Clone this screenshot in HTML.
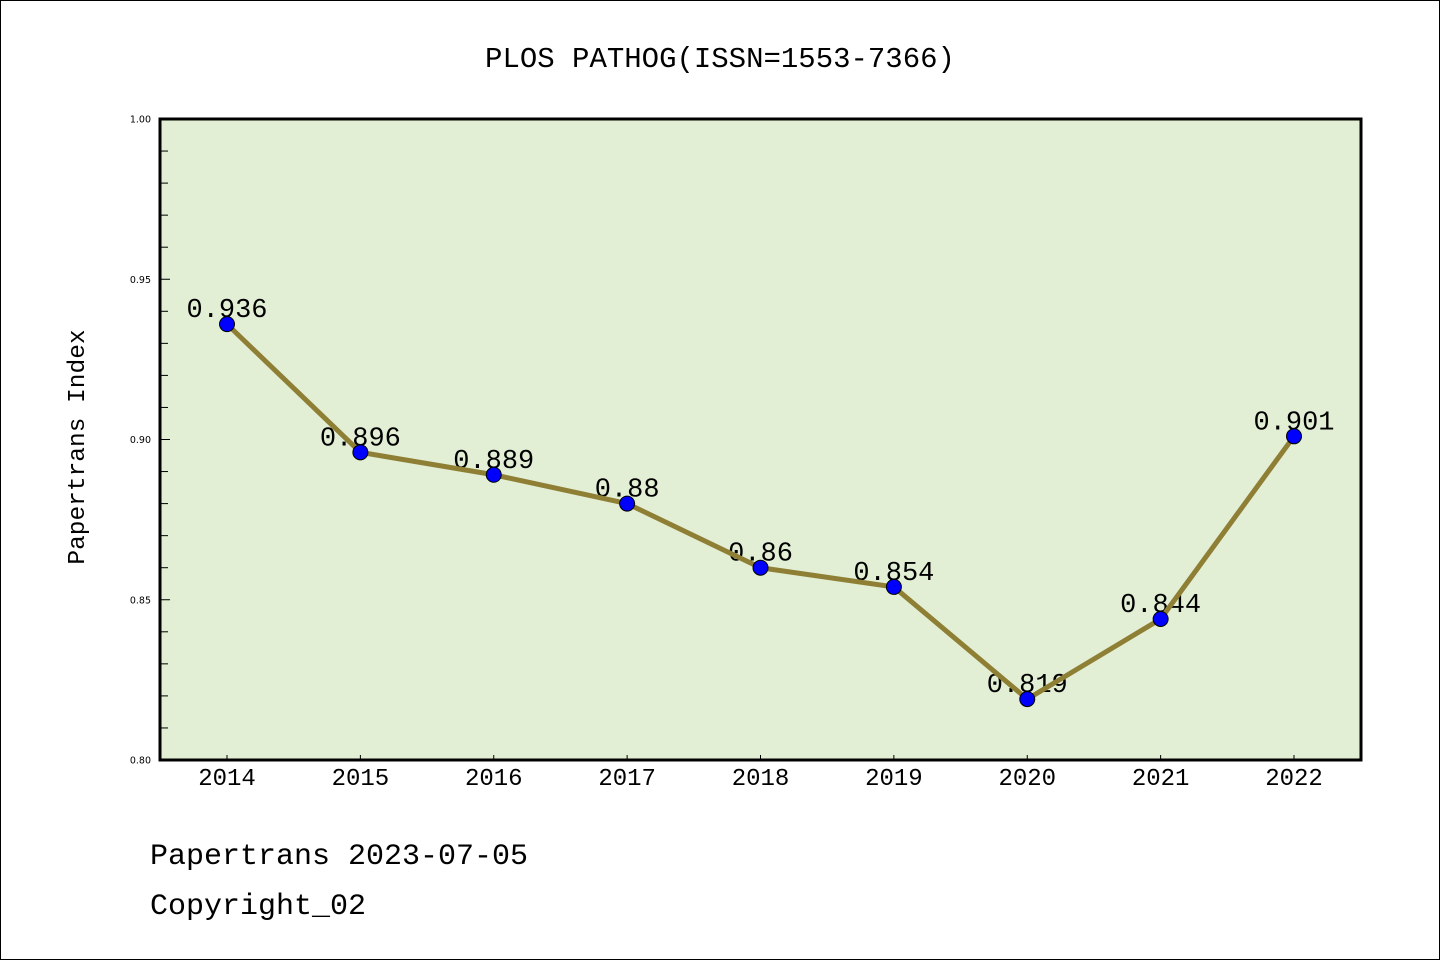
<!DOCTYPE html>
<html><head><meta charset="utf-8"><style>
html,body{margin:0;padding:0;background:#fff}
svg{display:block}
text{font-family:"WenQuanYi Zen Hei Mono","Liberation Mono",monospace}
text.yt{font-family:"DejaVu Sans",sans-serif}
</style></head><body>
<svg id="chart" width="1440" height="960" xmlns="http://www.w3.org/2000/svg">
<rect x="0.5" y="0.5" width="1439" height="959" fill="#fff" stroke="#000" stroke-width="1"/>
<text x="720" y="67" font-size="29" text-anchor="middle">PLOS PATHOG(ISSN=1553-7366)</text>
<rect x="160" y="119" width="1201" height="641" fill="#e2efd5"/>
<g id="yaxis"></g><g id="xaxis"></g><g id="labels"></g><g id="series"></g>
<rect x="160" y="119" width="1201" height="641" fill="none" stroke="#000" stroke-width="3"/>
<text transform="translate(84,447) rotate(-90)" font-size="24.5" text-anchor="middle">Papertrans Index</text>
<text x="150" y="864" font-size="30">Papertrans 2023-07-05</text>
<text x="150" y="914" font-size="30">Copyright_02</text>
</svg>
<script>
const years = ["2014","2015","2016","2017","2018","2019","2020","2021","2022"];
const values = [0.936,0.896,0.889,0.88,0.86,0.854,0.819,0.844,0.901];
const valueLabels = ["0.936","0.896","0.889","0.88","0.86","0.854","0.819","0.844","0.901"];
const yTicks = ["0.80","0.85","0.90","0.95","1.00"];
const NS="http://www.w3.org/2000/svg";
const yMin=0.8,yMax=1.0,plotTop=119,plotBot=760;
function yS(v){return plotBot-(v-yMin)/(yMax-yMin)*(plotBot-plotTop);}
function xS(i){return 227+i*(1294-227)/(years.length-1);}
function mk(tag,attrs,parent){const e=document.createElementNS(NS,tag);for(const k in attrs)e.setAttribute(k,attrs[k]);parent.appendChild(e);return e;}
const ya=document.getElementById('yaxis'),xa=document.getElementById('xaxis'),lb=document.getElementById('labels'),se=document.getElementById('series');
for(let k=0;k<=20;k++){const v=yMin+k*0.01;const y=yS(v);const major=k%5===0;
 const t=mk('line',{x1:160,x2:major?170:168,y1:y,y2:y,stroke:'#000','stroke-width':1},ya);
 
 }
yTicks.forEach(s=>{const t=mk('text',{x:151,y:yS(parseFloat(s))+3.5,'font-size':9.5,'text-anchor':'end','class':'yt'},ya);t.textContent=s;
 
 });
years.forEach((yr,i)=>{const x=xS(i);
 const t=mk('line',{x1:x,x2:x,y1:760,y2:755,stroke:'#000','stroke-width':1},xa);
 
 
 const l=mk('text',{x:x,y:785,'font-size':24,'text-anchor':'middle'},xa);l.textContent=yr;
 
 
 const v=mk('text',{x:x,y:yS(values[i])-7,'font-size':27,'text-anchor':'middle'},lb);v.textContent=valueLabels[i];
 
 });
const pl=mk('polyline',{points:values.map((v,i)=>xS(i)+','+yS(v)).join(' '),fill:'none',stroke:'#8e7f35','stroke-width':5,'stroke-linejoin':'round'},se);


values.forEach((v,i)=>{const c=mk('circle',{cx:xS(i),cy:yS(v),r:7.5,fill:'#0000ff',stroke:'#000','stroke-width':1},se);
 
 });
</script>
</body></html>
